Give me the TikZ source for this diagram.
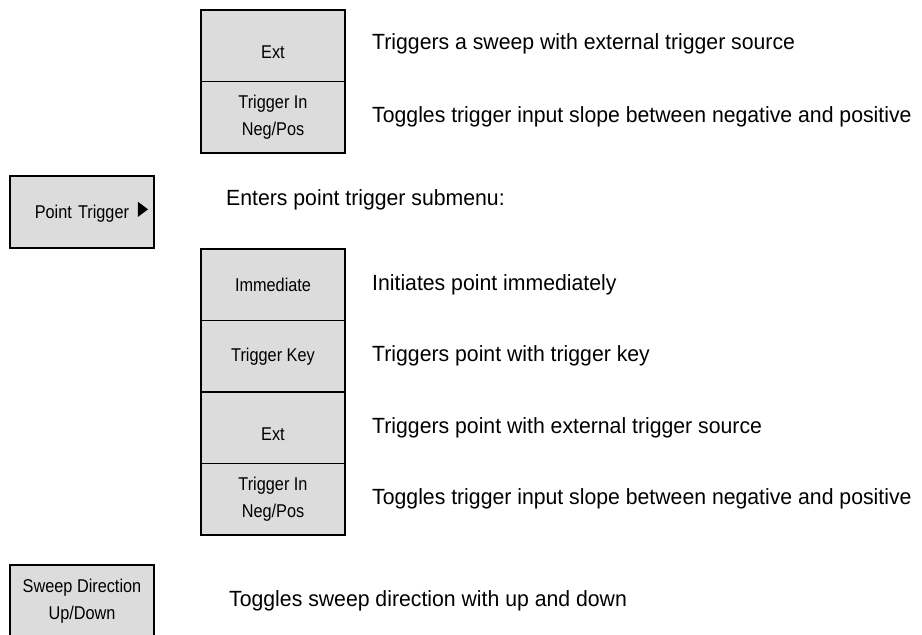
\documentclass[tikz,border=0pt]{standalone}
\usepackage{fontspec}
\setmainfont{Liberation Sans}
\newfontfamily\keyfont{Liberation Sans}[FakeStretch=0.88]
\newfontfamily\descfont{Liberation Sans}[FakeStretch=0.965]
\usetikzlibrary{positioning}
\definecolor{KeyGray}{HTML}{DCDCDC}
\newcommand{\submenuarrow}{\tikz[baseline=-1.5pt]\fill (0,0) -- (0,15pt) -- (10pt,7.5pt) -- cycle;}
\tikzset{
  softkey/.style={draw=black, line width=1.2pt, fill=KeyGray, minimum width=144pt,
                  minimum height=71.5pt, inner sep=0pt, outer sep=0pt, align=center,
                  font=\keyfont\fontsize{18.5}{27}\selectfont},
  desc/.style={inner sep=0pt, font=\descfont\fontsize{22}{26}\selectfont},
}
\begin{document}
\begin{tikzpicture}[x=1pt, y=1pt]
  \useasboundingbox (0,0) rectangle (922,-635);
  % sweep trigger: external
  \node[softkey, anchor=north west] (ext) at (201,-10) {\raisebox{-6pt}[\height][0pt]{Ext}};
  \node[softkey, below=0pt of ext] (trigin) {Trigger In\\Neg/Pos};
  \node[desc, right=27pt of ext, yshift=2pt] (extdesc) {Triggers a sweep with external trigger source};
  \node[desc, right=27pt of trigin] (trigindesc) {Toggles trigger input slope between negative and positive};
  % point trigger and its submenu
  \node[softkey, anchor=north west, text width=132pt, inner xsep=6pt, align=right,
        minimum height=72pt] (pttrig) at (10,-176) {Point Trigger\hspace{9pt}\submenuarrow};
  \node[desc, right=72pt of pttrig, yshift=12pt] (pttrigdesc) {Enters point trigger submenu:};
  \node[softkey, anchor=north west] (imm) at (201,-249) {Immediate};
  \node[softkey, below=0pt of imm] (trigkey) {Trigger Key};
  \node[softkey, below=0pt of trigkey] (ptext) {\raisebox{-6pt}[\height][0pt]{Ext}};
  \node[softkey, below=0pt of ptext] (pttrigin) {Trigger In\\Neg/Pos};
  \node[desc, right=27pt of imm] (immdesc) {Initiates point immediately};
  \node[desc, right=27pt of trigkey] (trigkeydesc) {Triggers point with trigger key};
  \node[desc, right=27pt of ptext] (ptextdesc) {Triggers point with external trigger source};
  \node[desc, right=27pt of pttrigin] (pttrigindesc) {Toggles trigger input slope between negative and positive};
  % sweep direction (runs off the bottom)
  \node[softkey, anchor=north west, minimum height=72pt] (sweepdir) at (10,-565) {Sweep Direction\\Up/Down};
  \node[desc, right=75pt of sweepdir] (sweepdirdesc) {Toggles sweep direction with up and down};
\end{tikzpicture}
\end{document}
